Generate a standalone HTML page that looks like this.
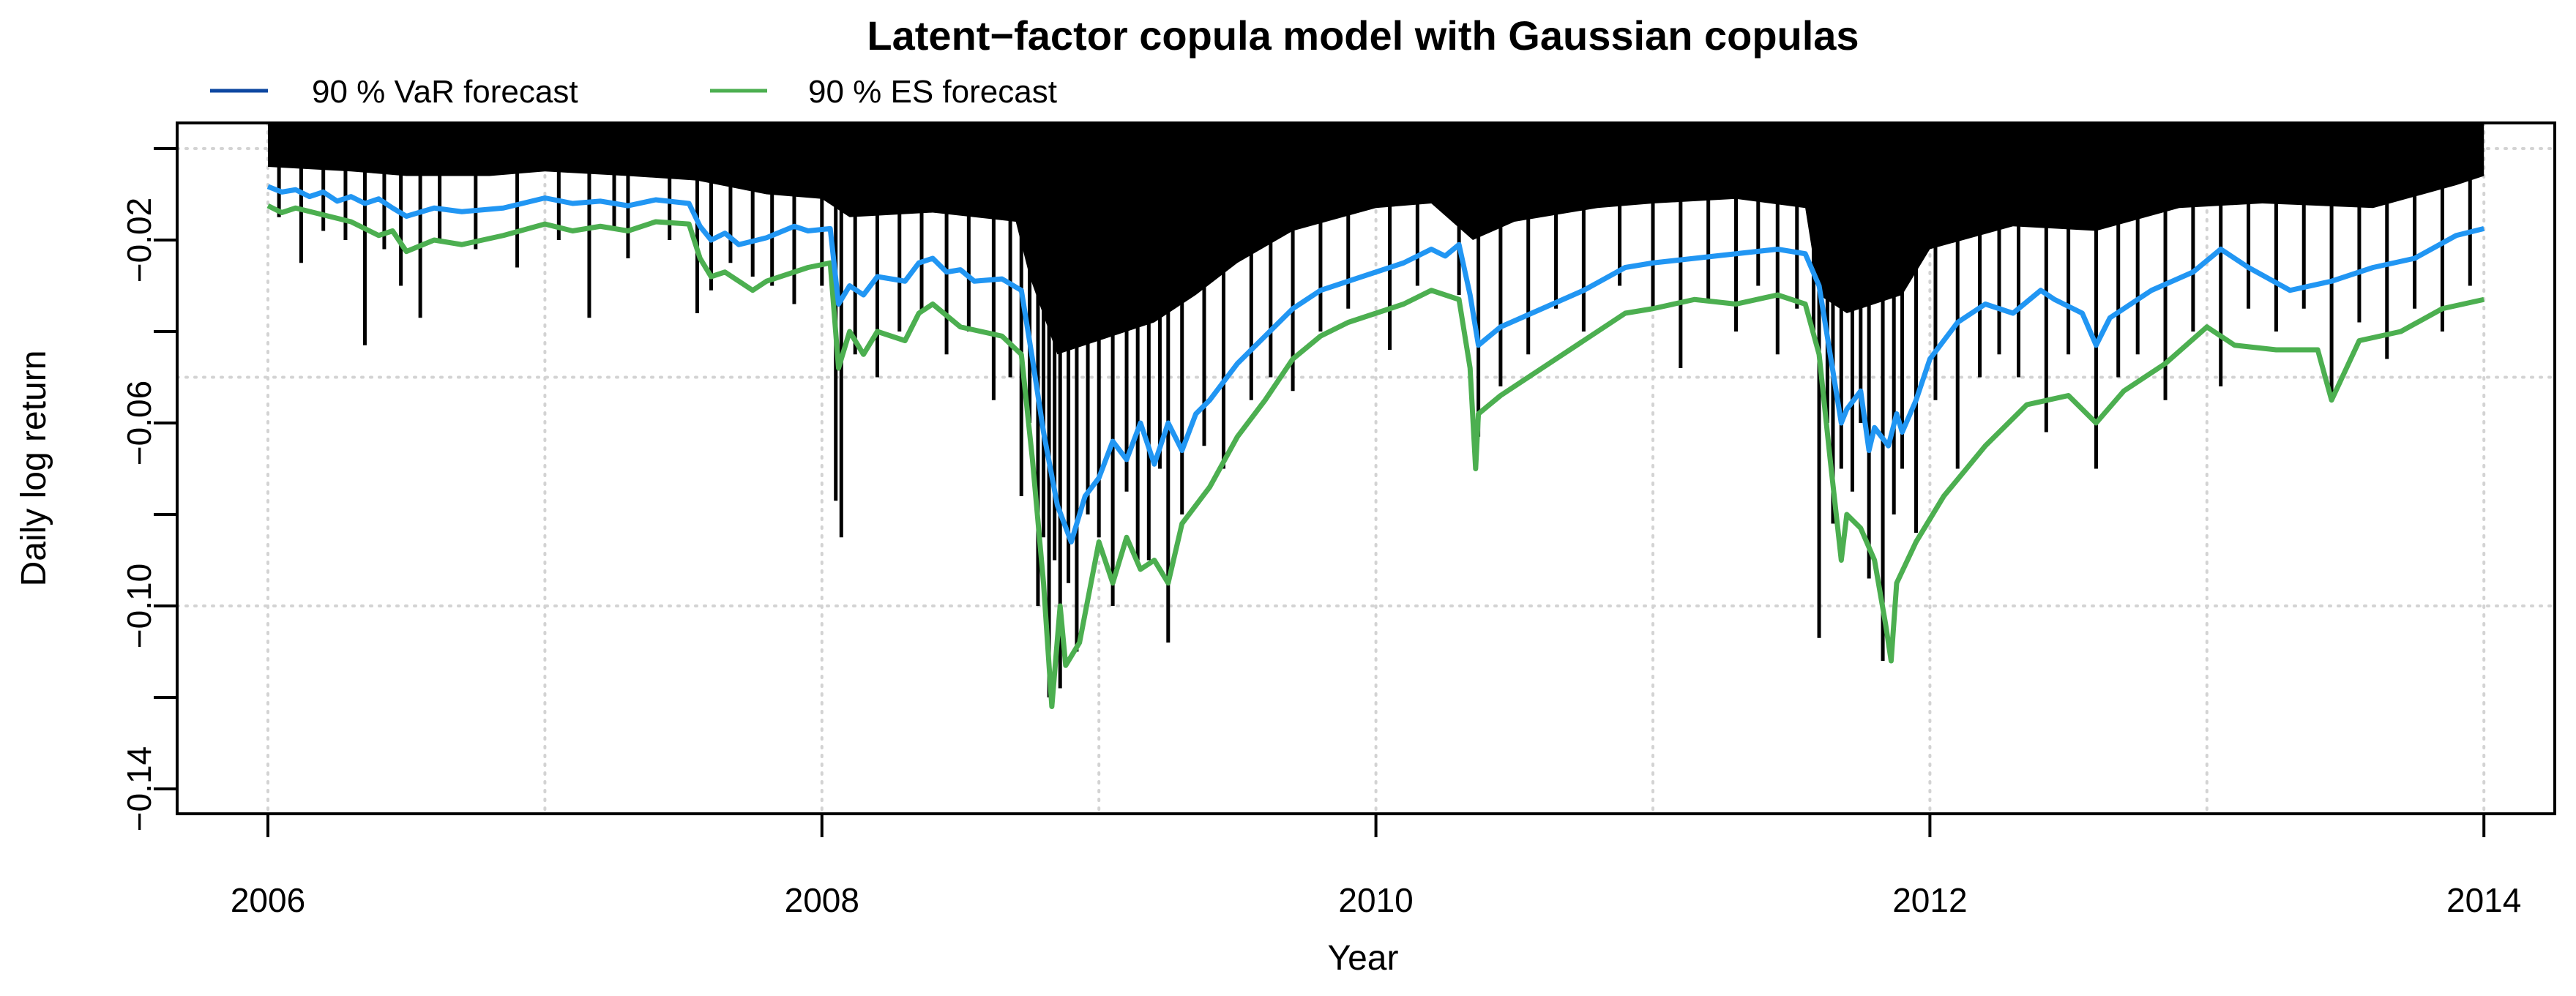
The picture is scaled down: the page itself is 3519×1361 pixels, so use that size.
<!DOCTYPE html>
<html><head><meta charset="utf-8"><style>
html,body{margin:0;padding:0;background:#fff;}
svg{display:block;font-family:"Liberation Sans",sans-serif;}
</style></head><body>
<svg id="chart" width="3519" height="1361" viewBox="0 0 3519 1361" xmlns="http://www.w3.org/2000/svg">
<text x="1862" y="68" text-anchor="middle" font-size="56" font-weight="bold">Latent−factor copula model with Gaussian copulas</text>
<g>
<line x1="287" y1="124" x2="366" y2="124" stroke="#0d47a1" stroke-width="5"/>
<text x="426" y="140" font-size="44">90 % VaR forecast</text>
<line x1="970" y1="124" x2="1048" y2="124" stroke="#4caf50" stroke-width="5"/>
<text x="1104" y="140" font-size="44">90 % ES forecast</text>
</g>
<g id="grid"></g>
<g id="plot"></g>
<rect x="242" y="168" width="3248" height="944" fill="none" stroke="#000" stroke-width="4"/>
<g id="axes"></g>
<text x="1862" y="1325" text-anchor="middle" font-size="48">Year</text>
<text transform="translate(62,640) rotate(-90)" text-anchor="middle" font-size="48">Daily log return</text>
</svg>
<script>
const xTicks=[2006,2008,2010,2012,2014];
const xGrid=[2006,2007,2008,2009,2010,2011,2012,2013,2014];
const yTicks=[0,-0.02,-0.04,-0.06,-0.08,-0.10,-0.12,-0.14];
const yTickLabels=["","−0.02","","−0.06","","−0.10","","−0.14"];
const yGrid=[0,-0.05,-0.10];
const varYears=[2006.0,2006.05,2006.1,2006.15,2006.2,2006.25,2006.3,2006.35,2006.4,2006.45,2006.5,2006.6,2006.7,2006.85,2007.0,2007.1,2007.2,2007.3,2007.4,2007.52,2007.56,2007.6,2007.65,2007.7,2007.8,2007.9,2007.95,2008.03,2008.06,2008.1,2008.15,2008.2,2008.3,2008.35,2008.4,2008.45,2008.5,2008.55,2008.65,2008.72,2008.76,2008.8,2008.85,2008.9,2008.95,2009.0,2009.05,2009.1,2009.15,2009.2,2009.25,2009.3,2009.35,2009.4,2009.5,2009.6,2009.7,2009.8,2009.9,2010.0,2010.1,2010.2,2010.25,2010.3,2010.34,2010.37,2010.45,2010.6,2010.75,2010.9,2011.0,2011.15,2011.3,2011.45,2011.55,2011.6,2011.64,2011.68,2011.7,2011.75,2011.78,2011.8,2011.85,2011.88,2011.9,2011.95,2012.0,2012.1,2012.2,2012.3,2012.4,2012.45,2012.55,2012.6,2012.65,2012.8,2012.95,2013.05,2013.15,2013.3,2013.45,2013.6,2013.75,2013.9,2014.0];
const varValues=[-0.0083,-0.0095,-0.009,-0.0105,-0.0095,-0.0115,-0.0105,-0.012,-0.011,-0.013,-0.0148,-0.013,-0.0138,-0.013,-0.0108,-0.012,-0.0115,-0.0125,-0.0112,-0.012,-0.017,-0.02,-0.0185,-0.021,-0.0195,-0.017,-0.018,-0.0175,-0.034,-0.03,-0.032,-0.028,-0.029,-0.025,-0.024,-0.027,-0.0265,-0.029,-0.0285,-0.031,-0.046,-0.062,-0.078,-0.086,-0.076,-0.072,-0.064,-0.068,-0.06,-0.069,-0.06,-0.066,-0.058,-0.055,-0.047,-0.041,-0.035,-0.031,-0.029,-0.027,-0.025,-0.022,-0.0235,-0.021,-0.032,-0.043,-0.039,-0.035,-0.031,-0.026,-0.025,-0.024,-0.023,-0.022,-0.023,-0.03,-0.045,-0.06,-0.057,-0.053,-0.066,-0.061,-0.065,-0.058,-0.062,-0.055,-0.046,-0.038,-0.034,-0.036,-0.031,-0.033,-0.036,-0.043,-0.037,-0.031,-0.027,-0.022,-0.026,-0.031,-0.029,-0.026,-0.024,-0.019,-0.0175];
const esYears=[2006.0,2006.05,2006.1,2006.2,2006.3,2006.4,2006.45,2006.5,2006.6,2006.7,2006.85,2007.0,2007.1,2007.2,2007.3,2007.4,2007.52,2007.56,2007.6,2007.65,2007.75,2007.8,2007.95,2008.03,2008.06,2008.1,2008.15,2008.2,2008.3,2008.35,2008.4,2008.5,2008.65,2008.72,2008.76,2008.8,2008.83,2008.86,2008.88,2008.93,2009.0,2009.05,2009.1,2009.15,2009.2,2009.25,2009.3,2009.4,2009.5,2009.6,2009.7,2009.8,2009.9,2010.0,2010.1,2010.2,2010.3,2010.34,2010.36,2010.37,2010.45,2010.6,2010.75,2010.9,2011.0,2011.15,2011.3,2011.45,2011.55,2011.6,2011.64,2011.68,2011.7,2011.75,2011.8,2011.84,2011.86,2011.88,2011.95,2012.05,2012.2,2012.35,2012.5,2012.6,2012.7,2012.85,2013.0,2013.1,2013.25,2013.4,2013.45,2013.55,2013.7,2013.85,2014.0];
const esValues=[-0.0125,-0.014,-0.013,-0.0145,-0.016,-0.019,-0.018,-0.0225,-0.02,-0.021,-0.019,-0.0165,-0.018,-0.017,-0.018,-0.016,-0.0165,-0.024,-0.028,-0.027,-0.031,-0.029,-0.026,-0.025,-0.048,-0.04,-0.045,-0.04,-0.042,-0.036,-0.034,-0.039,-0.041,-0.045,-0.068,-0.095,-0.122,-0.1,-0.113,-0.108,-0.086,-0.095,-0.085,-0.092,-0.09,-0.095,-0.082,-0.074,-0.063,-0.055,-0.046,-0.041,-0.038,-0.036,-0.034,-0.031,-0.033,-0.048,-0.07,-0.058,-0.054,-0.048,-0.042,-0.036,-0.035,-0.033,-0.034,-0.032,-0.034,-0.045,-0.068,-0.09,-0.08,-0.083,-0.09,-0.104,-0.112,-0.095,-0.086,-0.076,-0.065,-0.056,-0.054,-0.06,-0.053,-0.047,-0.039,-0.043,-0.044,-0.044,-0.055,-0.042,-0.04,-0.035,-0.033];
const bandYears=[2006.0,2006.3,2006.5,2006.8,2007.0,2007.3,2007.55,2007.8,2008.0,2008.1,2008.4,2008.7,2008.75,2008.85,2009.0,2009.2,2009.35,2009.5,2009.7,2010.0,2010.2,2010.35,2010.5,2010.8,2011.0,2011.3,2011.55,2011.6,2011.7,2011.9,2012.0,2012.3,2012.6,2012.9,2013.2,2013.6,2013.9,2014.0];
const bandValues=[-0.004,-0.005,-0.006,-0.006,-0.005,-0.006,-0.007,-0.01,-0.011,-0.015,-0.014,-0.016,-0.028,-0.045,-0.042,-0.038,-0.032,-0.025,-0.018,-0.013,-0.012,-0.02,-0.016,-0.013,-0.012,-0.011,-0.013,-0.032,-0.036,-0.032,-0.022,-0.017,-0.018,-0.013,-0.012,-0.013,-0.008,-0.006];
const spikeYears=[2006.04,2006.12,2006.2,2006.28,2006.35,2006.42,2006.48,2006.55,2006.62,2006.75,2006.9,2007.05,2007.16,2007.25,2007.3,2007.45,2007.55,2007.6,2007.67,2007.75,2007.82,2007.9,2008.0,2008.05,2008.07,2008.12,2008.2,2008.28,2008.36,2008.45,2008.53,2008.62,2008.68,2008.72,2008.75,2008.78,2008.8,2008.82,2008.84,2008.86,2008.89,2008.92,2008.96,2009.0,2009.05,2009.1,2009.14,2009.18,2009.22,2009.25,2009.3,2009.38,2009.45,2009.55,2009.62,2009.7,2009.8,2009.9,2010.05,2010.15,2010.3,2010.37,2010.45,2010.55,2010.65,2010.75,2010.88,2011.0,2011.1,2011.2,2011.3,2011.38,2011.45,2011.52,2011.58,2011.6,2011.63,2011.65,2011.68,2011.72,2011.75,2011.78,2011.83,2011.87,2011.9,2011.95,2012.02,2012.1,2012.18,2012.25,2012.32,2012.42,2012.5,2012.6,2012.68,2012.75,2012.85,2012.95,2013.05,2013.15,2013.25,2013.35,2013.45,2013.55,2013.65,2013.75,2013.85,2013.95];
const spikeValues=[-0.015,-0.025,-0.018,-0.02,-0.043,-0.022,-0.03,-0.037,-0.02,-0.022,-0.026,-0.02,-0.037,-0.018,-0.024,-0.02,-0.036,-0.031,-0.025,-0.028,-0.03,-0.034,-0.03,-0.077,-0.085,-0.045,-0.05,-0.04,-0.036,-0.045,-0.04,-0.055,-0.05,-0.076,-0.06,-0.1,-0.085,-0.12,-0.09,-0.118,-0.095,-0.11,-0.08,-0.085,-0.1,-0.075,-0.09,-0.09,-0.07,-0.108,-0.08,-0.065,-0.07,-0.055,-0.05,-0.053,-0.04,-0.035,-0.044,-0.03,-0.032,-0.063,-0.052,-0.045,-0.035,-0.04,-0.03,-0.035,-0.048,-0.033,-0.04,-0.03,-0.045,-0.035,-0.04,-0.107,-0.06,-0.082,-0.07,-0.075,-0.06,-0.094,-0.112,-0.08,-0.07,-0.084,-0.055,-0.07,-0.05,-0.045,-0.05,-0.062,-0.045,-0.07,-0.05,-0.045,-0.055,-0.04,-0.052,-0.035,-0.04,-0.035,-0.055,-0.038,-0.046,-0.035,-0.04,-0.03];

const NS="http://www.w3.org/2000/svg";
const L=242,R=3490,T=168,B=1112;
function X(yr){return 366+(yr-2006)*378.4;}
function Y(v){return 203+(-v)/0.02*125;}
function mk(tag,attrs,parent){const e=document.createElementNS(NS,tag);for(const k in attrs)e.setAttribute(k,attrs[k]);parent.appendChild(e);return e;}
const grid=document.getElementById('grid'),plot=document.getElementById('plot'),axes=document.getElementById('axes');
xGrid.forEach(yr=>{const e=mk('line',{x1:X(yr),x2:X(yr),y1:T,y2:B,stroke:'#d3d3d3','stroke-width':4,'stroke-dasharray':'2 10','stroke-linecap':'round'},grid);

});
yGrid.forEach(v=>{const e=mk('line',{x1:L,x2:R,y1:Y(v),y2:Y(v),stroke:'#d3d3d3','stroke-width':4,'stroke-dasharray':'2 10','stroke-linecap':'round'},grid);

});
const clip=mk('clipPath',{id:'pc'},plot);mk('rect',{x:L,y:T,width:R-L,height:B-T},clip);
const g=mk('g',{'clip-path':'url(#pc)'},plot);
let d='M'+X(bandYears[0])+','+T;
bandYears.forEach((yr,i)=>{d+=' L'+X(yr)+','+Y(bandValues[i]);});
d+=' L'+X(bandYears[bandYears.length-1])+','+T+' Z';
const band=mk('path',{d:d,fill:'#000'},g);


spikeYears.forEach((yr,i)=>{const e=mk('line',{x1:X(yr),x2:X(yr),y1:T,y2:Y(spikeValues[i]),stroke:'#000','stroke-width':5},g);

});
function poly(xs,vs,color,name){const p=mk('polyline',{points:xs.map((yr,i)=>X(yr)+','+Y(vs[i])).join(' '),fill:'none',stroke:color,'stroke-width':7,'stroke-linejoin':'round'},g);

}
poly(esYears,esValues,'#4caf50','es-forecast-line');
poly(varYears,varValues,'#2196f3','var-forecast-line');
xTicks.forEach(yr=>{mk('line',{x1:X(yr),x2:X(yr),y1:B,y2:B+32,stroke:'#000','stroke-width':4},axes);
const t=mk('text',{x:X(yr),y:1246,'text-anchor':'middle','font-size':46},axes);t.textContent=yr;

});
yTicks.forEach((v,i)=>{mk('line',{x1:L,x2:L-32,y1:Y(v),y2:Y(v),stroke:'#000','stroke-width':4},axes);
if(yTickLabels[i]){const t=mk('text',{transform:'translate(206,'+Y(v)+') rotate(-90)','text-anchor':'middle','font-size':46},axes);t.textContent=yTickLabels[i];

}});
</script>
</body></html>
